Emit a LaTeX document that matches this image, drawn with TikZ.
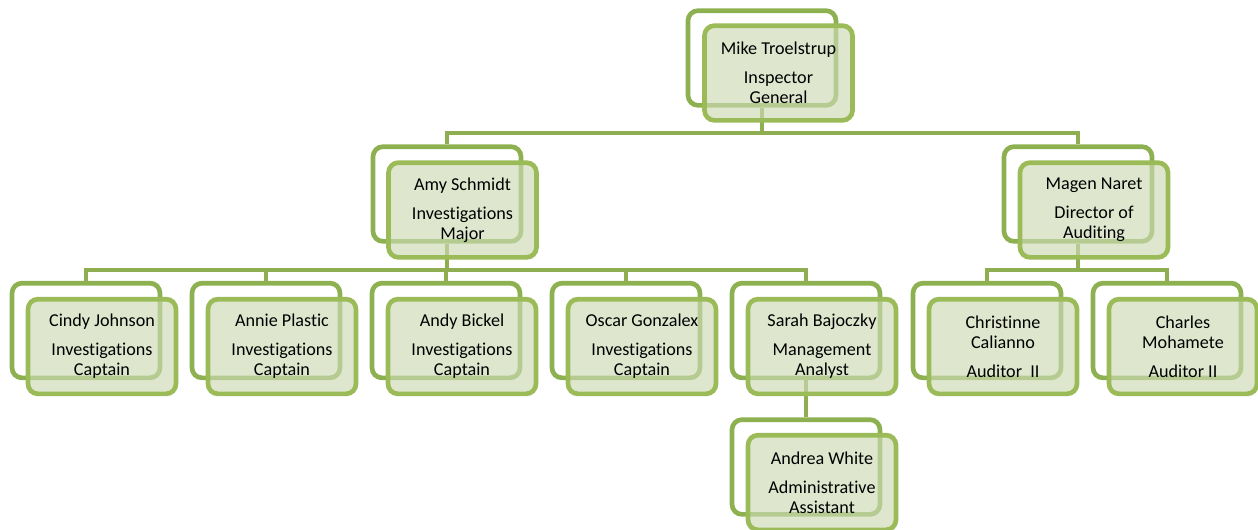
\documentclass[tikz,border=0pt]{standalone}
\usepackage{fontspec}
\setmainfont{Carlito}[Ligatures={NoCommon}]
\definecolor{backc}{RGB}{141,177,80}
\definecolor{frontc}{RGB}{155,187,89}
\definecolor{fillc}{RGB}{205,218,180}
\definecolor{connc}{RGB}{143,174,82}
\begin{document}
\begin{tikzpicture}[x=0.75pt,y=-0.75pt,
  backbox/.style={draw=backc, line width=3.5pt, rounded corners=7.5pt,
    minimum width=111pt, minimum height=71pt, inner sep=0pt},
  frontbox/.style={draw=frontc, line width=3.5pt, rounded corners=7.5pt,
    fill=fillc, fill opacity=0.65, text opacity=1,
    minimum width=111pt, minimum height=71pt, inner sep=0pt,
    align=center, font=\fontsize{13.6}{15}\selectfont},
  conn/.style={draw=connc, line width=3.2pt}]
\useasboundingbox (0,0) rectangle (1258,529);
% back frames
\node[backbox] (topB) at (762,58) {};
\node[backbox] (amyB) at (447,194) {};
\node[backbox] (magB) at (1078,194) {};
\node[backbox] (cinB) at (86,330.5) {};
\node[backbox] (annB) at (266,330.5) {};
\node[backbox] (andB) at (446,330.5) {};
\node[backbox] (oscB) at (626,330.5) {};
\node[backbox] (sarB) at (806,330.5) {};
\node[backbox] (chrB) at (987,330.5) {};
\node[backbox] (chaB) at (1167,330.5) {};
\node[backbox] (adwB) at (806,467) {};
% bar levels
\coordinate (bar1) at (0,133);
\coordinate (bar2) at (0,270);
% connectors
\draw[conn] (topB.south) -- (topB.south |- bar1);
\draw[conn] (amyB.north) |- (magB.north |- bar1) -- (magB.north);
\draw[conn] (amyB.south) -- (amyB.south |- bar2);
\draw[conn] (cinB.north) |- (sarB.north |- bar2) -- (sarB.north);
\draw[conn] (annB.north) -- (annB.north |- bar2);
\draw[conn] (andB.north) -- (andB.north |- bar2);
\draw[conn] (oscB.north) -- (oscB.north |- bar2);
\draw[conn] (magB.south) -- (magB.south |- bar2);
\draw[conn] (chrB.north) |- (chaB.north |- bar2) -- (chaB.north);
\draw[conn] (sarB.south) -- (adwB.north);
% front boxes
\node[frontbox] (topF) at (778.5,73) {Mike Troelstrup\\[6.75pt]Inspector\\General};
\node[frontbox] (amyF) at (462.5,210) {Amy Schmidt\\[6.75pt]Investigations\\Major};
\node[frontbox] (magF) at (1094,210) {Magen Naret\\[6.75pt]Director of\\Auditing};
\node[frontbox] (cinF) at (102,346.5) {Cindy Johnson\\[6.75pt]Investigations\\Captain};
\node[frontbox] (annF) at (282,346.5) {Annie Plastic\\[6.75pt]Investigations\\Captain};
\node[frontbox] (andF) at (462,346.5) {Andy Bickel\\[6.75pt]Investigations\\Captain};
\node[frontbox] (oscF) at (642,346.5) {Oscar Gonzalex\\[6.75pt]Investigations\\Captain};
\node[frontbox] (sarF) at (822,346.5) {Sarah Bajoczky\\[6.75pt]Management\\Analyst};
\node[frontbox] (chrF) at (1003,346.5) {Christinne\\Calianno\\[6.75pt]Auditor\ \ II};
\node[frontbox] (chaF) at (1183,346.5) {Charles\\Mohamete\\[6.75pt]Auditor II};
\node[frontbox] (adwF) at (822,482.5) {Andrea White\\[6.75pt]Administrative\\Assistant};
\end{tikzpicture}
\end{document}
